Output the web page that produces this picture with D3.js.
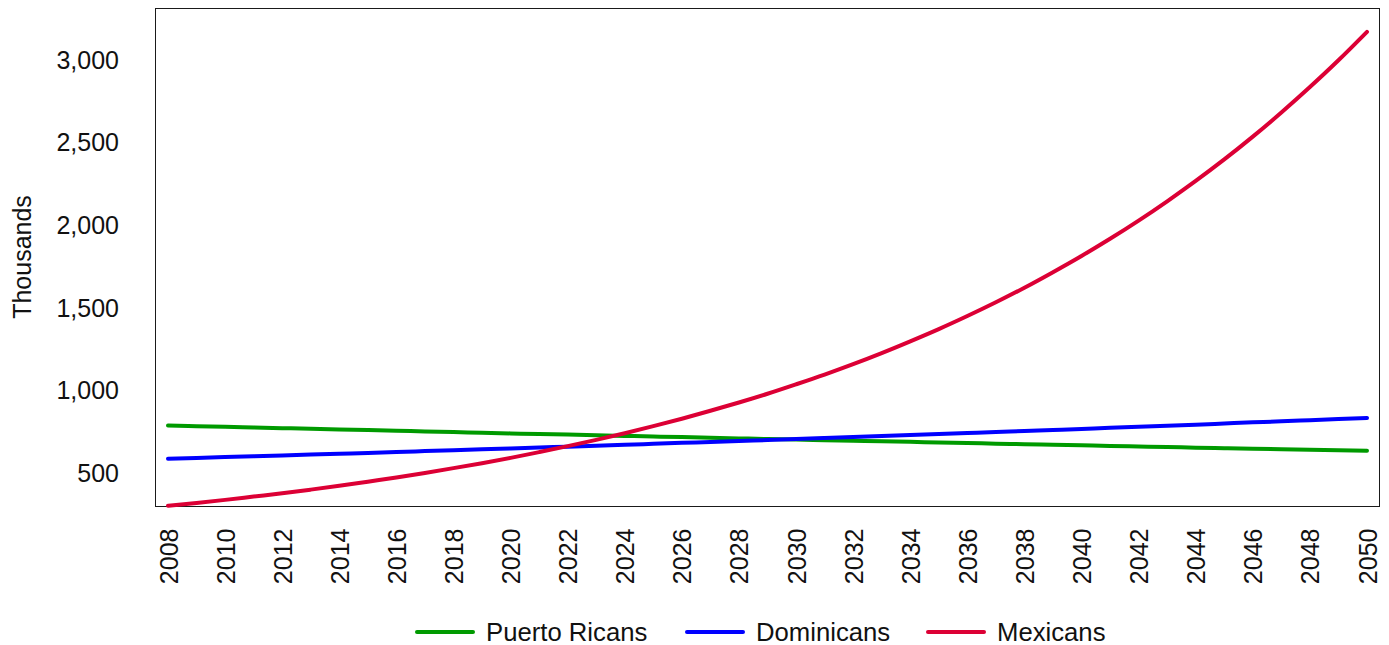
<!DOCTYPE html>
<html>
<head>
<meta charset="utf-8">
<script src="https://cdn.jsdelivr.net/npm/d3@7"></script>
<style>
  html, body { margin: 0; padding: 0; background: #fff; }
  svg { display: block; font-family: "Liberation Sans", Arial, sans-serif; }
</style>
</head>
<body>
<svg id="chart" width="1389" height="645"></svg>
<script>
const years = [2008,2009,2010,2011,2012,2013,2014,2015,2016,2017,2018,2019,2020,2021,2022,2023,2024,2025,2026,2027,2028,2029,2030,2031,2032,2033,2034,2035,2036,2037,2038,2039,2040,2041,2042,2043,2044,2045,2046,2047,2048,2049,2050];
const puertoRicans = [790,786,782,778,774,770,766,762,758,754,750,746,742,738,735,731,727,723,720,716,712,708,705,701,698,694,691,687,684,680,677,673,670,666,663,660,656,653,650,647,643,640,637];
const dominicans = [589,594,599,604,609,614,619,624,630,635,640,646,651,657,662,668,673,679,685,690,696,702,708,714,720,726,732,738,744,750,757,763,769,776,782,789,795,802,809,815,822,829,836];
const mexicans = [304,321,340,360,380,402,425,450,475,503,532,562,594,629,665,703,743,786,831,879,929,982,1039,1098,1161,1228,1299,1373,1452,1535,1623,1717,1815,1919,2029,2146,2269,2399,2537,2683,2837,2999,3171];
const seriesNames = ["Puerto Ricans","Dominicans","Mexicans"];
const seriesColors = ["#009a00","#0000ff","#dc0035"];
const yTicks = [500,1000,1500,2000,2500,3000];
const xTicks = [2008,2010,2012,2014,2016,2018,2020,2022,2024,2026,2028,2030,2032,2034,2036,2038,2040,2042,2044,2046,2048,2050];
const yLabel = "Thousands";

const allSeries = [puertoRicans, dominicans, mexicans];
const FONT = "'Liberation Sans', Arial, sans-serif";
const FS = 25;

const svg = d3.select("#chart");
const plot = {left: 155.5, top: 8.5, right: 1379.5, bottom: 506.5};

const x = d3.scaleLinear().domain([2008, 2050]).range([168, 1367]);
const y = d3.scaleLinear().domain([300, 3312]).range([plot.bottom, plot.top]);

// Frame
svg.append("rect")
  .attr("x", plot.left).attr("y", plot.top)
  .attr("width", plot.right - plot.left).attr("height", plot.bottom - plot.top)
  .attr("fill", "none").attr("stroke", "#1a1a1a").attr("stroke-width", 1);

// Y axis labels
const yAxis = d3.axisLeft(y).tickValues(yTicks).tickSize(0).tickPadding(0)
  .tickFormat(d3.format(","));
const gy = svg.append("g").attr("transform", `translate(119,0)`).call(yAxis);
gy.select(".domain").remove();
gy.selectAll("text").attr("font-size", FS).attr("fill", "#111")
  .style("font-family", FONT);

// X axis labels
const xAxis = d3.axisBottom(x).tickValues(xTicks).tickSize(0).tickFormat(d3.format("d"));
const gx = svg.append("g").attr("transform", `translate(0,${plot.bottom})`).call(xAxis);
gx.select(".domain").remove();
gx.selectAll("text")
  .attr("font-size", FS).attr("fill", "#111")
  .style("font-family", FONT)
  .attr("text-anchor", "end")
  .attr("transform", "translate(0,22) rotate(-90)")
  .attr("x", 0).attr("y", 0).attr("dy", "0.36em");

// Y title
svg.append("text")
  .attr("transform", "translate(22,257) rotate(-90)")
  .attr("text-anchor", "middle").attr("dy", "0.36em")
  .attr("font-size", FS).attr("fill", "#111")
  .style("font-family", FONT)
  .text(yLabel);

// Lines
const line = d3.line().x((d, i) => x(years[i])).y(d => y(d)).curve(d3.curveMonotoneX);
svg.append("g").selectAll("path").data(allSeries).join("path")
  .attr("d", d => line(d))
  .attr("fill", "none")
  .attr("stroke", (d, i) => seriesColors[i])
  .attr("stroke-width", 4)
  .attr("stroke-linecap", "round")
  .attr("stroke-linejoin", "round");

// Legend
const legendPos = [417, 687, 928];
const lg = svg.append("g").attr("transform", "translate(0,632)");
seriesNames.forEach((name, i) => {
  const g = lg.append("g").attr("transform", `translate(${legendPos[i]},0)`);
  g.append("line").attr("x1", 0).attr("x2", 56).attr("y1", 0).attr("y2", 0)
    .attr("stroke", seriesColors[i]).attr("stroke-width", 4).attr("stroke-linecap", "round");
  g.append("text").attr("x", 69).attr("dy", "0.36em")
    .attr("font-size", 25.7).attr("fill", "#111")
    .style("font-family", FONT).text(name);
});
</script>
</body>
</html>
